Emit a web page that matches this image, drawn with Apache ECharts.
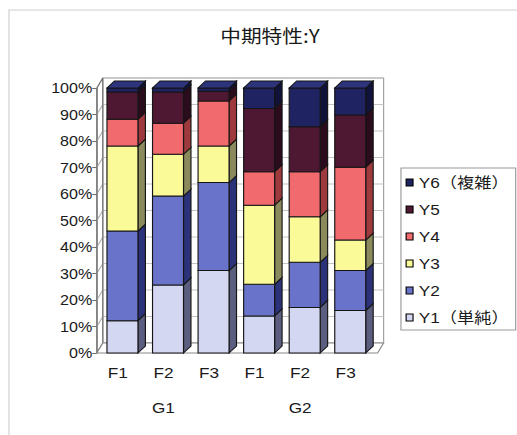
<!DOCTYPE html>
<html>
<head>
<meta charset="utf-8">
<script src="https://cdn.jsdelivr.net/npm/echarts@6/dist/echarts.min.js"></script>
<style>
  html, body { margin: 0; padding: 0; background: #fff; overflow: hidden; }
  #wrap { width: 517px; height: 435px; overflow: hidden; }
  /* the chart is laid out narrower and widened horizontally */
  #chart { width: 450px; height: 435px; transform: scaleX(1.1489); transform-origin: 0 0; }
</style>
</head>
<body>
<div id="wrap"><div id="chart"></div></div>
<script>
// categories along the floor and their groups
const categories = ['F1', 'F2', 'F3', 'F1', 'F2', 'F3'];
const groups = ['G1', 'G2'];

// value axis tick labels (0..100 step 10)
const yTickValues = [0, 10, 20, 30, 40, 50, 60, 70, 80, 90, 100];
const yTickLabels = ['0%', '10%', '20%', '30%', '40%', '50%', '60%', '70%', '80%', '90%', '100%'];

// share of each level per category (%), bottom of the stack first
const seriesNames = ['Y1（単純）', 'Y2', 'Y3', 'Y4', 'Y5', 'Y6（複雑）'];
const y1 = [12.2, 25.7, 31.1, 14.0, 17.2, 16.0];
const y2 = [33.8, 33.5, 33.2, 11.9, 17.0, 15.1];
const y3 = [32.1, 15.8, 13.8, 29.9, 17.2, 11.5];
const y4 = [10.1, 11.7, 17.0, 12.6, 17.0, 27.5];
const y5 = [10.3, 11.8, 3.7, 23.9, 17.0, 19.7];
const y6 = [1.5, 1.5, 1.2, 7.7, 14.6, 10.2];
const levels = [y1, y2, y3, y4, y5, y6];

// face colours of the 3D boxes
const faces = [
  { front: '#D4D7F1', side: '#5C5E80', top: '#E2E4F7' },
  { front: '#6A73CA', side: '#2B3279', top: '#8088D4' },
  { front: '#FBFA98', side: '#8A8A5C', top: '#FDFDBE' },
  { front: '#F06A6E', side: '#9E3A3E', top: '#F49094' },
  { front: '#4E1832', side: '#2A0C1C', top: '#66243F' },
  { front: '#1F2361', side: '#10123A', top: '#2E347C' }
];
const edge = '#151515';

// bottom of each segment in the stack
const totals = categories.map((c, i) => levels.reduce((s, arr) => s + arr[i], 0));
const starts = levels.map((arr, k) => arr.map((v, i) => {
  let s = 0;
  for (let j = 0; j < k; j++) s += levels[j][i];
  return s;
}));

const chart = echarts.init(document.getElementById('chart'), null, { renderer: 'svg' });

// depth of the walls / floor
const WALL_DX = 5.2, WALL_DY = -10;
// depth of the boxes
const BOX_DX = 6.5, BOX_DY = -7;

function renderFrame(params, api) {
  const cs = params.coordSys;
  const fl = cs.x + 1.5;
  const fr = cs.x + cs.width + 8;
  const yb = api.coord([0, 0])[1];
  const yt = api.coord([0, 100])[1];
  const children = [];
  children.push({
    type: 'polygon',
    shape: { points: [[fl + WALL_DX, yb + WALL_DY], [fr + WALL_DX, yb + WALL_DY], [fr + WALL_DX, yt + WALL_DY], [fl + WALL_DX, yt + WALL_DY]] },
    style: { fill: '#fff', stroke: '#a0a0a0', lineWidth: 1 }
  });
  yTickValues.forEach(v => {
    const y = api.coord([0, v])[1];
    children.push({
      type: 'line',
      shape: { x1: fl + WALL_DX, y1: y + WALL_DY, x2: fr + WALL_DX, y2: y + WALL_DY },
      style: { stroke: '#c4c4c4', lineWidth: 1 }
    });
    children.push({
      type: 'line',
      shape: { x1: fl, y1: y, x2: fl + WALL_DX, y2: y + WALL_DY },
      style: { stroke: '#b0b0b0', lineWidth: 1 }
    });
  });
  children.push({
    type: 'polygon',
    shape: { points: [[fl, yb], [fl, yt], [fl + WALL_DX, yt + WALL_DY], [fl + WALL_DX, yb + WALL_DY]] },
    style: { fill: 'none', stroke: '#707070', lineWidth: 1 }
  });
  children.push({
    type: 'polygon',
    shape: { points: [[fl, yb], [fr, yb], [fr + WALL_DX, yb + WALL_DY], [fl + WALL_DX, yb + WALL_DY]] },
    style: { fill: '#fff', stroke: '#8a8a8a', lineWidth: 1 }
  });
  return { type: 'group', children };
}

function makeBoxSeries(k) {
  const data = categories.map((c, i) => [i, starts[k][i], starts[k][i] + levels[k][i], totals[i]]);
  const f = faces[k];
  return {
    type: 'custom',
    name: seriesNames[k],
    itemStyle: { color: f.front },
    silent: true,
    clip: false,
    encode: { x: 0, y: [1, 2] },
    data,
    z: 3 + k,
    renderItem: (params, api) => {
      const i = api.value(0), s = api.value(1), e = api.value(2), tot = api.value(3);
      const p0 = api.coord([i, s]);
      const p1 = api.coord([i, e]);
      const band = api.size([1, 0])[0];
      const w = band * 0.68;
      const x0 = p0[0] + band * 0.1 - w / 2;
      const x1 = x0 + w;
      const yB = p0[1], yT = p1[1];
      const children = [
        {
          type: 'polygon',
          shape: { points: [[x1, yB], [x1 + BOX_DX, yB + BOX_DY], [x1 + BOX_DX, yT + BOX_DY], [x1, yT]] },
          style: { fill: f.side, stroke: edge, lineWidth: 1 }
        },
        {
          type: 'rect',
          shape: { x: x0, y: yT, width: w, height: yB - yT },
          style: { fill: f.front, stroke: edge, lineWidth: 1 }
        }
      ];
      if (e >= tot - 1e-6) {
        children.push({
          type: 'polygon',
          shape: { points: [[x0, yT], [x1, yT], [x1 + BOX_DX, yT + BOX_DY], [x0 + BOX_DX, yT + BOX_DY]] },
          style: { fill: f.top, stroke: edge, lineWidth: 1 }
        });
      }
      return { type: 'group', children };
    }
  };
}

const latin = 'Liberation Sans, Arial, Noto Sans CJK JP, sans-serif';

const option = {
  animation: false,
  backgroundColor: '#fff',
  graphic: [
    {
      type: 'rect',
      shape: { x: 7.8, y: 10, width: 520, height: 520 },
      style: { fill: 'none', stroke: '#cfcfcf', lineWidth: 1 },
      silent: true
    },
    {
      type: 'text',
      x: 235, y: 36,
      style: {
        text: '中期特性:Y',
        font: '18px "Noto Sans CJK JP", sans-serif',
        fill: '#1a1a1a',
        textAlign: 'center',
        textVerticalAlign: 'middle'
      },
      silent: true
    }
  ],
  grid: { left: 82.8, top: 88, width: 237.9, height: 265 },
  legend: {
    orient: 'vertical',
    left: 349,
    top: 168,
    data: seriesNames.slice().reverse(),
    icon: 'rect',
    itemWidth: 6,
    itemHeight: 7,
    itemGap: 10,
    padding: [6, 6, 4, 4],
    borderColor: '#9a9a9a',
    borderWidth: 1,
    selectedMode: false,
    itemStyle: { borderColor: '#000', borderWidth: 1 },
    textStyle: { fontFamily: latin, fontSize: 15, color: '#1a1a1a', lineHeight: 17 }
  },
  xAxis: [
    {
      type: 'category',
      data: categories,
      position: 'bottom',
      axisLine: { show: false },
      axisTick: { show: false },
      axisLabel: { margin: 12, fontFamily: latin, fontSize: 15, color: '#1a1a1a', interval: 0 },
      splitLine: { show: false }
    },
    {
      type: 'category',
      data: groups,
      position: 'bottom',
      axisLine: { show: false },
      axisTick: { show: false },
      axisLabel: { margin: 47, fontFamily: latin, fontSize: 15, color: '#1a1a1a', interval: 0 },
      splitLine: { show: false }
    }
  ],
  yAxis: {
    type: 'value',
    min: 0,
    max: 100,
    interval: 10,
    offset: -1.5,
    axisLine: { show: true, lineStyle: { color: '#707070' } },
    axisTick: { show: true, length: 4, lineStyle: { color: '#707070' } },
    splitLine: { show: false },
    axisLabel: {
      margin: 4,
      fontFamily: latin,
      fontSize: 14,
      color: '#1a1a1a',
      formatter: v => yTickLabels[yTickValues.indexOf(v)]
    }
  },
  series: [
    {
      type: 'custom',
      name: 'walls',
      silent: true,
      clip: false,
      z: 1,
      encode: { x: 0, y: 1 },
      data: [[0, 0]],
      renderItem: renderFrame
    }
  ].concat(levels.map((arr, k) => makeBoxSeries(k)))
};

chart.setOption(option);
</script>
</body>
</html>
